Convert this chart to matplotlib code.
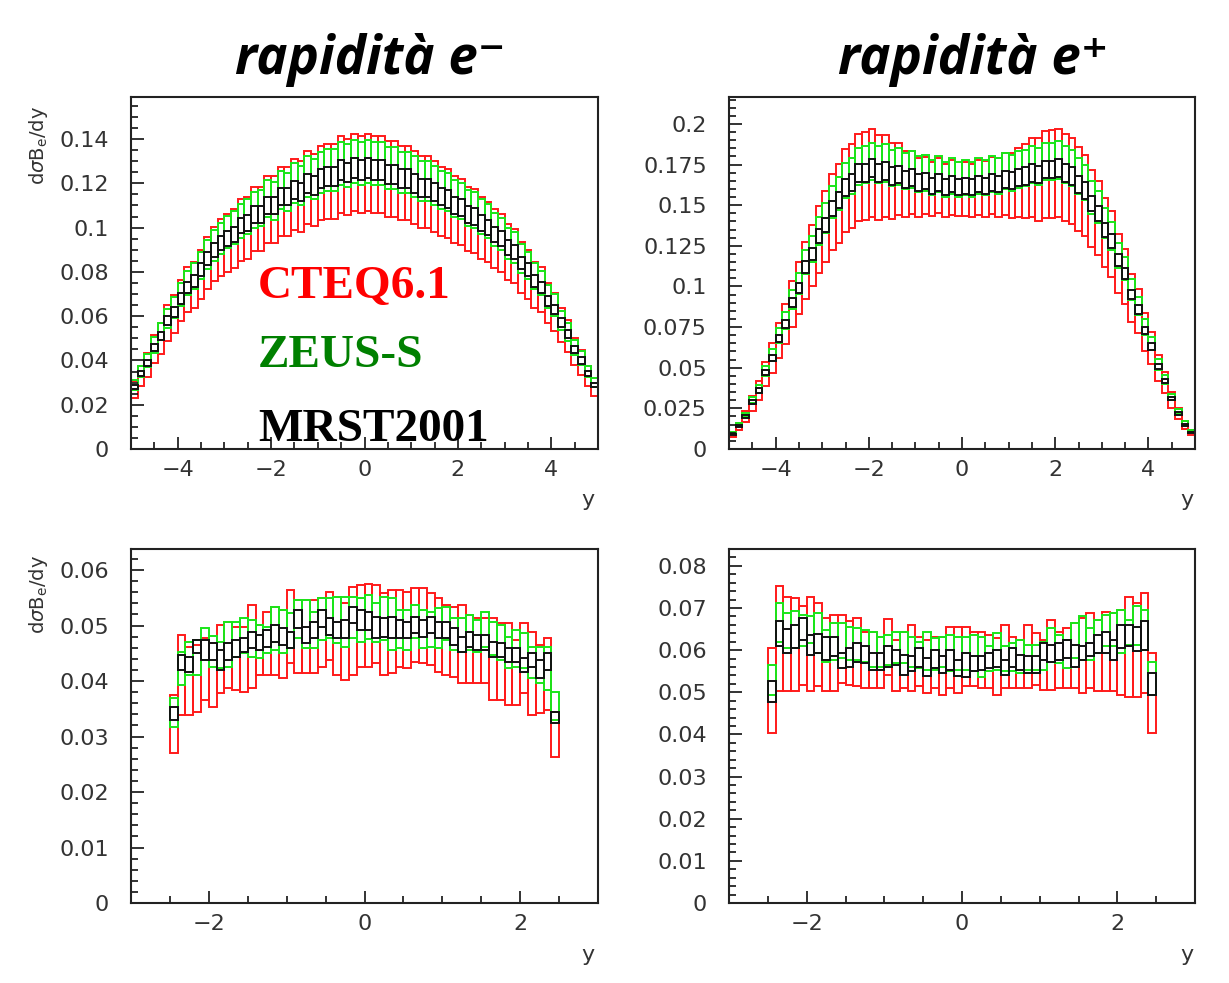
import numpy as np
import matplotlib
matplotlib.use("Agg")
import matplotlib.pyplot as plt
from matplotlib.ticker import MultipleLocator, FuncFormatter

plt.rcParams['font.family'] = ['DejaVu Sans']

# ---------------- top panels: 70 bins from -5 to 5 (center, half error) ----------------
tl_black_c = [0.028, 0.034, 0.039, 0.046, 0.051, 0.058, 0.062, 0.068, 0.073, 0.076, 0.081, 0.086, 0.090, 0.093, 0.095,
              0.097, 0.101, 0.102, 0.106, 0.106, 0.110, 0.110, 0.114, 0.114, 0.117, 0.116, 0.120, 0.119, 0.122, 0.123,
              0.123, 0.126, 0.125, 0.127, 0.126,
              0.127, 0.126, 0.126, 0.124, 0.124, 0.122, 0.122, 0.120, 0.118, 0.118, 0.116, 0.114, 0.113, 0.110, 0.109,
              0.106, 0.105, 0.102, 0.100, 0.097, 0.095, 0.091, 0.089, 0.084, 0.081, 0.076, 0.073, 0.067, 0.063, 0.057,
              0.052, 0.045, 0.040, 0.034, 0.029]
tl_black_e = [0.0010, 0.0012, 0.0014, 0.0016, 0.0018, 0.0020, 0.0022, 0.0024, 0.0026, 0.0027, 0.0028, 0.0030, 0.0032,
              0.0033, 0.0033, 0.0034, 0.0035, 0.0036, 0.0037, 0.0037, 0.0039, 0.0039, 0.0040, 0.0040, 0.0041, 0.0041,
              0.0042, 0.0042, 0.0043, 0.0043, 0.0043, 0.0044, 0.0044, 0.0044, 0.0044,
              0.0044, 0.0044, 0.0044, 0.0043, 0.0043, 0.0043, 0.0043, 0.0042, 0.0041, 0.0041, 0.0041, 0.0040, 0.0040,
              0.0039, 0.0038, 0.0037, 0.0037, 0.0036, 0.0035, 0.0034, 0.0033, 0.0032, 0.0031, 0.0029, 0.0028, 0.0027,
              0.0026, 0.0023, 0.0022, 0.0020, 0.0018, 0.0016, 0.0014, 0.0012, 0.0010]
tl_green_c = [0.029, 0.035, 0.040, 0.047, 0.053, 0.059, 0.064, 0.070, 0.075, 0.078, 0.083, 0.088, 0.092, 0.095, 0.098,
              0.100, 0.103, 0.105, 0.108, 0.109, 0.113, 0.112, 0.117, 0.116, 0.120, 0.119, 0.123, 0.122, 0.125, 0.126,
              0.126, 0.129, 0.128, 0.130, 0.129,
              0.130, 0.129, 0.129, 0.127, 0.127, 0.125, 0.125, 0.123, 0.121, 0.121, 0.119, 0.117, 0.116, 0.113, 0.112,
              0.109, 0.108, 0.105, 0.103, 0.099, 0.097, 0.093, 0.091, 0.086, 0.083, 0.078, 0.075, 0.069, 0.065, 0.058,
              0.053, 0.046, 0.041, 0.035, 0.030]
tl_green_e = [0.0022, 0.0026, 0.0030, 0.0035, 0.0039, 0.0044, 0.0047, 0.0052, 0.0056, 0.0058, 0.0062, 0.0066, 0.0069,
              0.0071, 0.0073, 0.0075, 0.0077, 0.0078, 0.0081, 0.0081, 0.0084, 0.0084, 0.0087, 0.0087, 0.0090, 0.0089,
              0.0092, 0.0091, 0.0093, 0.0094, 0.0094, 0.0096, 0.0096, 0.0097, 0.0096,
              0.0097, 0.0096, 0.0096, 0.0095, 0.0095, 0.0093, 0.0093, 0.0092, 0.0090, 0.0090, 0.0089, 0.0087, 0.0086,
              0.0084, 0.0083, 0.0081, 0.0080, 0.0078, 0.0076, 0.0074, 0.0073, 0.0070, 0.0068, 0.0064, 0.0062, 0.0058,
              0.0056, 0.0051, 0.0048, 0.0044, 0.0040, 0.0034, 0.0031, 0.0026, 0.0022]
tl_red_c = [0.027, 0.033, 0.038, 0.045, 0.050, 0.057, 0.061, 0.067, 0.072, 0.074, 0.079, 0.084, 0.088, 0.091, 0.093,
            0.095, 0.099, 0.100, 0.104, 0.104, 0.108, 0.108, 0.112, 0.112, 0.115, 0.114, 0.118, 0.117, 0.120, 0.121,
            0.121, 0.124, 0.123, 0.125, 0.124,
            0.125, 0.124, 0.124, 0.122, 0.122, 0.120, 0.120, 0.118, 0.116, 0.116, 0.114, 0.112, 0.111, 0.108, 0.107,
            0.104, 0.103, 0.100, 0.098, 0.095, 0.093, 0.089, 0.087, 0.082, 0.079, 0.074, 0.072, 0.066, 0.062, 0.056,
            0.051, 0.044, 0.039, 0.033, 0.028]
tl_red_e = [0.0038, 0.0046, 0.0053, 0.0063, 0.0070, 0.0080, 0.0085, 0.0093, 0.0100, 0.0104, 0.0111, 0.0118, 0.0123,
            0.0127, 0.0130, 0.0133, 0.0139, 0.0140, 0.0145, 0.0145, 0.0151, 0.0151, 0.0156, 0.0156, 0.0160, 0.0159,
            0.0165, 0.0163, 0.0167, 0.0169, 0.0169, 0.0173, 0.0171, 0.0174, 0.0173,
            0.0174, 0.0173, 0.0173, 0.0170, 0.0170, 0.0167, 0.0167, 0.0165, 0.0162, 0.0162, 0.0159, 0.0156, 0.0155,
            0.0151, 0.0149, 0.0145, 0.0144, 0.0140, 0.0137, 0.0133, 0.0130, 0.0125, 0.0122, 0.0115, 0.0111, 0.0104,
            0.0100, 0.0092, 0.0086, 0.0078, 0.0071, 0.0062, 0.0055, 0.0046, 0.0040]

tr_black_c = [0.009, 0.014, 0.020, 0.029, 0.036, 0.047, 0.056, 0.068, 0.077, 0.090, 0.099, 0.112, 0.120, 0.131, 0.138,
              0.148, 0.153, 0.161, 0.164, 0.170, 0.170, 0.173, 0.170, 0.171, 0.168, 0.169, 0.166, 0.167, 0.164, 0.165,
              0.162, 0.164, 0.161, 0.163, 0.161,
              0.162, 0.161, 0.163, 0.162, 0.164, 0.163, 0.166, 0.165, 0.167, 0.168, 0.170, 0.169, 0.172, 0.172, 0.173,
              0.170, 0.168, 0.163, 0.159, 0.151, 0.145, 0.135, 0.128, 0.116, 0.108, 0.095, 0.086, 0.073, 0.063, 0.051,
              0.042, 0.031, 0.022, 0.015, 0.010]
tr_black_e = [0.0004, 0.0006, 0.0008, 0.0011, 0.0013, 0.0016, 0.0019, 0.0022, 0.0025, 0.0029, 0.0032, 0.0036, 0.0039,
              0.0042, 0.0044, 0.0047, 0.0049, 0.0051, 0.0052, 0.0054, 0.0054, 0.0055, 0.0054, 0.0054, 0.0053, 0.0053,
              0.0052, 0.0052, 0.0051, 0.0051, 0.0050, 0.0051, 0.0050, 0.0050, 0.0050,
              0.0050, 0.0050, 0.0050, 0.0050, 0.0051, 0.0051, 0.0052, 0.0052, 0.0052, 0.0053, 0.0054, 0.0054, 0.0055,
              0.0055, 0.0055, 0.0054, 0.0053, 0.0052, 0.0050, 0.0048, 0.0046, 0.0043, 0.0041, 0.0037, 0.0034, 0.0030,
              0.0027, 0.0023, 0.0020, 0.0016, 0.0013, 0.0010, 0.0008, 0.0006, 0.0004]
tr_green_c = [0.010, 0.015, 0.021, 0.030, 0.037, 0.048, 0.058, 0.070, 0.079, 0.092, 0.102, 0.115, 0.123, 0.134, 0.142,
              0.152, 0.157, 0.165, 0.168, 0.174, 0.175, 0.177, 0.175, 0.176, 0.173, 0.174, 0.171, 0.172, 0.169, 0.170,
              0.167, 0.169, 0.166, 0.168, 0.166,
              0.167, 0.166, 0.168, 0.167, 0.169, 0.168, 0.171, 0.170, 0.172, 0.173, 0.175, 0.174, 0.177, 0.177, 0.178,
              0.175, 0.173, 0.168, 0.164, 0.155, 0.149, 0.139, 0.131, 0.119, 0.111, 0.098, 0.088, 0.075, 0.065, 0.052,
              0.043, 0.032, 0.023, 0.016, 0.011]
tr_green_e = [0.0007, 0.0010, 0.0014, 0.0020, 0.0024, 0.0031, 0.0038, 0.0046, 0.0051, 0.0060, 0.0066, 0.0075, 0.0080,
              0.0087, 0.0092, 0.0099, 0.0102, 0.0107, 0.0109, 0.0113, 0.0114, 0.0115, 0.0114, 0.0114, 0.0112, 0.0113,
              0.0111, 0.0112, 0.0110, 0.0111, 0.0109, 0.0110, 0.0108, 0.0109, 0.0108,
              0.0109, 0.0108, 0.0109, 0.0109, 0.0110, 0.0109, 0.0111, 0.0111, 0.0112, 0.0112, 0.0114, 0.0113, 0.0115,
              0.0115, 0.0116, 0.0114, 0.0112, 0.0109, 0.0107, 0.0101, 0.0097, 0.0090, 0.0085, 0.0077, 0.0072, 0.0064,
              0.0057, 0.0049, 0.0042, 0.0034, 0.0028, 0.0021, 0.0015, 0.0010, 0.0007]
tr_red_c = [0.009, 0.014, 0.020, 0.028, 0.036, 0.046, 0.056, 0.067, 0.077, 0.089, 0.099, 0.110, 0.119, 0.129, 0.137,
            0.146, 0.151, 0.159, 0.162, 0.167, 0.168, 0.170, 0.167, 0.168, 0.165, 0.166, 0.163, 0.164, 0.161, 0.162,
            0.160, 0.162, 0.159, 0.161, 0.160,
            0.160, 0.159, 0.161, 0.160, 0.162, 0.161, 0.163, 0.162, 0.164, 0.165, 0.167, 0.166, 0.169, 0.169, 0.170,
            0.167, 0.165, 0.160, 0.156, 0.148, 0.142, 0.133, 0.126, 0.114, 0.106, 0.093, 0.085, 0.072, 0.062, 0.050,
            0.041, 0.030, 0.022, 0.015, 0.010]
tr_red_e = [0.0015, 0.0023, 0.0032, 0.0045, 0.0058, 0.0074, 0.0090, 0.0107, 0.0123, 0.0142, 0.0158, 0.0176, 0.0190,
            0.0206, 0.0219, 0.0234, 0.0242, 0.0254, 0.0259, 0.0267, 0.0269, 0.0272, 0.0262, 0.0250, 0.0235, 0.0222,
            0.0205, 0.0195, 0.0180, 0.0175, 0.0168, 0.0170, 0.0165, 0.0168, 0.0166,
            0.0166, 0.0165, 0.0168, 0.0170, 0.0175, 0.0180, 0.0192, 0.0200, 0.0215, 0.0228, 0.0245, 0.0255, 0.0268,
            0.0270, 0.0272, 0.0267, 0.0264, 0.0256, 0.0250, 0.0237, 0.0227, 0.0213, 0.0202, 0.0182, 0.0170, 0.0149,
            0.0136, 0.0115, 0.0099, 0.0080, 0.0066, 0.0048, 0.0035, 0.0024, 0.0016]

# ---------------- bottom panels: 50 bins from -2.5 to 2.5 (low, high) ----------------
bl_black_lo = [0.0330, 0.0420, 0.0417, 0.0450, 0.0438, 0.0438, 0.0420, 0.0438, 0.0444, 0.0453, 0.0459, 0.0456, 0.0462,
               0.0471, 0.0465, 0.0459, 0.0495, 0.0468, 0.0477, 0.0498, 0.0483, 0.0477, 0.0477, 0.0504, 0.0492, 0.0492,
               0.0477, 0.0480, 0.0477, 0.0477, 0.0477, 0.0486, 0.0480, 0.0486, 0.0477, 0.0477, 0.0465, 0.0453, 0.0462,
               0.0456, 0.0456, 0.0444, 0.0444, 0.0435, 0.0435, 0.0417, 0.0426, 0.0405, 0.0420, 0.0324]
bl_black_hi = [0.0354, 0.0447, 0.0444, 0.0474, 0.0474, 0.0468, 0.0456, 0.0468, 0.0474, 0.0477, 0.0489, 0.0483, 0.0492,
               0.0501, 0.0495, 0.0489, 0.0528, 0.0498, 0.0507, 0.0528, 0.0513, 0.0507, 0.0510, 0.0534, 0.0528, 0.0525,
               0.0516, 0.0513, 0.0516, 0.0510, 0.0507, 0.0516, 0.0510, 0.0516, 0.0507, 0.0507, 0.0495, 0.0480, 0.0489,
               0.0483, 0.0483, 0.0471, 0.0468, 0.0459, 0.0459, 0.0441, 0.0450, 0.0438, 0.0450, 0.0345]
bl_green_lo = [0.0318, 0.0393, 0.0411, 0.0411, 0.0438, 0.0426, 0.0423, 0.0426, 0.0444, 0.0450, 0.0444, 0.0441, 0.0450,
               0.0456, 0.0450, 0.0459, 0.0477, 0.0459, 0.0459, 0.0474, 0.0477, 0.0468, 0.0462, 0.0477, 0.0471, 0.0475,
               0.0471, 0.0474, 0.0456, 0.0459, 0.0456, 0.0477, 0.0459, 0.0462, 0.0459, 0.0474, 0.0456, 0.0453, 0.0456,
               0.0453, 0.0462, 0.0447, 0.0438, 0.0423, 0.0426, 0.0423, 0.0405, 0.0396, 0.0384, 0.0330]
bl_green_hi = [0.0369, 0.0453, 0.0471, 0.0474, 0.0495, 0.0481, 0.0471, 0.0507, 0.0507, 0.0513, 0.0510, 0.0501, 0.0498,
               0.0534, 0.0528, 0.0522, 0.0546, 0.0546, 0.0525, 0.0549, 0.0549, 0.0552, 0.0552, 0.0552, 0.0549, 0.0555,
               0.0540, 0.0552, 0.0549, 0.0528, 0.0528, 0.0537, 0.0528, 0.0525, 0.0531, 0.0534, 0.0513, 0.0513, 0.0519,
               0.0510, 0.0525, 0.0507, 0.0501, 0.0480, 0.0492, 0.0486, 0.0462, 0.0462, 0.0462, 0.0381]
bl_red_lo = [0.0270, 0.0339, 0.0339, 0.0345, 0.0366, 0.0354, 0.0378, 0.0387, 0.0384, 0.0381, 0.0387, 0.0411, 0.0411,
             0.0411, 0.0405, 0.0432, 0.0414, 0.0414, 0.0414, 0.0426, 0.0438, 0.0411, 0.0402, 0.0411, 0.0426, 0.0425,
             0.0432, 0.0411, 0.0414, 0.0426, 0.0423, 0.0435, 0.0432, 0.0429, 0.0417, 0.0411, 0.0408, 0.0396, 0.0396,
             0.0396, 0.0396, 0.0366, 0.0366, 0.0357, 0.0357, 0.0378, 0.0339, 0.0342, 0.0348, 0.0264]
bl_red_hi = [0.0375, 0.0483, 0.0462, 0.0465, 0.0477, 0.0469, 0.0501, 0.0507, 0.0498, 0.0498, 0.0537, 0.0501, 0.0525,
             0.0534, 0.0528, 0.0564, 0.0546, 0.0546, 0.0546, 0.0549, 0.0561, 0.0552, 0.0540, 0.0570, 0.0573, 0.0575,
             0.0573, 0.0558, 0.0564, 0.0564, 0.0561, 0.0567, 0.0567, 0.0558, 0.0549, 0.0537, 0.0534, 0.0537, 0.0519,
             0.0513, 0.0513, 0.0513, 0.0504, 0.0504, 0.0474, 0.0504, 0.0489, 0.0465, 0.0477, 0.0345]

br_black_lo = [0.0478, 0.0609, 0.0593, 0.0605, 0.0624, 0.0589, 0.0593, 0.0577, 0.0585, 0.0557, 0.0561, 0.0573, 0.0570,
               0.0553, 0.0553, 0.0561, 0.0565, 0.0542, 0.0550, 0.0561, 0.0538, 0.0557, 0.0545, 0.0553, 0.0538, 0.0537,
               0.0550, 0.0553, 0.0557, 0.0561, 0.0541, 0.0561, 0.0553, 0.0545, 0.0545, 0.0577, 0.0573, 0.0577, 0.0581,
               0.0561, 0.0577, 0.0585, 0.0593, 0.0593, 0.0577, 0.0605, 0.0609, 0.0597, 0.0600, 0.0494]
br_black_hi = [0.0526, 0.0668, 0.0650, 0.0660, 0.0676, 0.0636, 0.0639, 0.0632, 0.0632, 0.0593, 0.0605, 0.0617, 0.0609,
               0.0593, 0.0593, 0.0609, 0.0601, 0.0589, 0.0585, 0.0605, 0.0581, 0.0601, 0.0585, 0.0601, 0.0577, 0.0593,
               0.0585, 0.0585, 0.0593, 0.0601, 0.0577, 0.0605, 0.0589, 0.0585, 0.0585, 0.0617, 0.0613, 0.0617, 0.0624,
               0.0613, 0.0609, 0.0617, 0.0636, 0.0644, 0.0624, 0.0660, 0.0660, 0.0656, 0.0668, 0.0545]
br_green_lo = [0.0494, 0.0620, 0.0605, 0.0605, 0.0609, 0.0617, 0.0593, 0.0573, 0.0577, 0.0581, 0.0577, 0.0577, 0.0573,
               0.0561, 0.0561, 0.0565, 0.0569, 0.0569, 0.0561, 0.0557, 0.0553, 0.0553, 0.0561, 0.0550, 0.0553, 0.0553,
               0.0550, 0.0537, 0.0550, 0.0553, 0.0550, 0.0550, 0.0545, 0.0553, 0.0553, 0.0553, 0.0573, 0.0569, 0.0557,
               0.0581, 0.0577, 0.0577, 0.0593, 0.0609, 0.0609, 0.0593, 0.0613, 0.0613, 0.0601, 0.0494]
br_green_hi = [0.0565, 0.0711, 0.0688, 0.0694, 0.0684, 0.0680, 0.0688, 0.0648, 0.0664, 0.0664, 0.0656, 0.0652, 0.0648,
               0.0644, 0.0632, 0.0636, 0.0644, 0.0644, 0.0632, 0.0620, 0.0644, 0.0628, 0.0632, 0.0636, 0.0632, 0.0632,
               0.0636, 0.0632, 0.0609, 0.0640, 0.0609, 0.0617, 0.0624, 0.0613, 0.0613, 0.0620, 0.0652, 0.0636, 0.0624,
               0.0664, 0.0680, 0.0652, 0.0672, 0.0684, 0.0688, 0.0696, 0.0672, 0.0704, 0.0696, 0.0573]
br_red_lo = [0.0403, 0.0502, 0.0502, 0.0502, 0.0518, 0.0502, 0.0514, 0.0502, 0.0502, 0.0522, 0.0518, 0.0514, 0.0510,
             0.0510, 0.0510, 0.0541, 0.0502, 0.0510, 0.0502, 0.0514, 0.0498, 0.0510, 0.0494, 0.0510, 0.0498, 0.0514,
             0.0514, 0.0510, 0.0510, 0.0494, 0.0510, 0.0510, 0.0510, 0.0510, 0.0518, 0.0506, 0.0506, 0.0510, 0.0510,
             0.0510, 0.0498, 0.0510, 0.0502, 0.0502, 0.0502, 0.0494, 0.0490, 0.0490, 0.0498, 0.0403]
br_red_hi = [0.0605, 0.0753, 0.0727, 0.0723, 0.0704, 0.0727, 0.0711, 0.0676, 0.0684, 0.0684, 0.0668, 0.0676, 0.0644,
             0.0644, 0.0632, 0.0674, 0.0625, 0.0644, 0.0660, 0.0632, 0.0625, 0.0632, 0.0632, 0.0656, 0.0656, 0.0656,
             0.0644, 0.0644, 0.0636, 0.0628, 0.0660, 0.0632, 0.0624, 0.0660, 0.0640, 0.0624, 0.0672, 0.0644, 0.0652,
             0.0664, 0.0676, 0.0688, 0.0672, 0.0690, 0.0688, 0.0696, 0.0727, 0.0711, 0.0735, 0.0593]

RED = '#ff1a1a'
GREEN = '#19e619'
BLACK = '#111111'
W, H = 1229, 983


def px_axes(fig, x0, y0, x1, y1):
    return fig.add_axes([x0 / W, 1 - y1 / H, (x1 - x0) / W, (y1 - y0) / H])


def draw_boxes(ax, edges, lo, hi, color):
    edges = np.asarray(edges)
    centers = 0.5 * (edges[:-1] + edges[1:])
    width = edges[1] - edges[0]
    lo = np.asarray(lo)
    hi = np.asarray(hi)
    ax.bar(centers, hi - lo, bottom=lo, width=width, fill=False,
           edgecolor=color, linewidth=1.4, align='center')


def fmt(v, pos):
    if abs(v) < 1e-9:
        return '0'
    s = ('%.4f' % v).rstrip('0').rstrip('.')
    return s.replace('-', '\u2212')


def style(ax, xlim, ylim, xmaj, xmin, ymaj, ymin):
    ax.set_xlim(*xlim)
    ax.set_ylim(*ylim)
    ax.xaxis.set_major_locator(MultipleLocator(xmaj))
    ax.xaxis.set_minor_locator(MultipleLocator(xmin))
    ax.yaxis.set_major_locator(MultipleLocator(ymaj))
    ax.yaxis.set_minor_locator(MultipleLocator(ymin))
    ax.xaxis.set_major_formatter(FuncFormatter(fmt))
    ax.yaxis.set_major_formatter(FuncFormatter(fmt))
    ax.tick_params(which='both', direction='in', top=False, right=False,
                   colors=BLACK, labelcolor='#333333', labelsize=16)
    ax.tick_params(which='major', length=9, width=1.2)
    ax.tick_params(which='minor', length=5, width=1.2)
    ax.tick_params(axis='y', which='major', pad=16)
    ax.tick_params(axis='x', which='major', pad=8)
    for s in ax.spines.values():
        s.set_linewidth(1.5)
        s.set_color('#222222')


fig = plt.figure(figsize=(12.29, 9.83), dpi=100)

top_edges = np.linspace(-5, 5, 71)
bot_edges = np.linspace(-2.5, 2.5, 51)

# top-left: e-
ax1 = px_axes(fig, 131, 97, 598, 449)
for c, e, col in [(tl_red_c, tl_red_e, RED), (tl_green_c, tl_green_e, GREEN), (tl_black_c, tl_black_e, BLACK)]:
    draw_boxes(ax1, top_edges, np.array(c) - np.array(e), np.array(c) + np.array(e), col)
style(ax1, (-5, 5), (0, 0.159), 2, 0.5, 0.02, 0.005)

# top-right: e+
ax2 = px_axes(fig, 729, 97, 1195, 449)
for c, e, col in [(tr_red_c, tr_red_e, RED), (tr_green_c, tr_green_e, GREEN), (tr_black_c, tr_black_e, BLACK)]:
    draw_boxes(ax2, top_edges, np.array(c) - np.array(e), np.array(c) + np.array(e), col)
style(ax2, (-5, 5), (0, 0.2166), 2, 0.5, 0.025, 0.005)

# bottom-left
ax3 = px_axes(fig, 131, 549, 598, 903)
for lo, hi, col in [(bl_red_lo, bl_red_hi, RED), (bl_green_lo, bl_green_hi, GREEN), (bl_black_lo, bl_black_hi, BLACK)]:
    draw_boxes(ax3, bot_edges, lo, hi, col)
style(ax3, (-3, 3), (0, 0.0638), 2, 0.5, 0.01, 0.002)

# bottom-right
ax4 = px_axes(fig, 729, 549, 1195, 903)
for lo, hi, col in [(br_red_lo, br_red_hi, RED), (br_green_lo, br_green_hi, GREEN), (br_black_lo, br_black_hi, BLACK)]:
    draw_boxes(ax4, bot_edges, lo, hi, col)
style(ax4, (-3, 3), (0, 0.084), 2, 0.5, 0.01, 0.002)

# axis titles
for yc in (145, 594):
    fig.text(38 / W, 1 - yc / H, r'd$\sigma$B$_{\rm e}$/dy', rotation=90, ha='center', va='center',
             fontsize=14, color='#333333')
for xc, yc in [(588, 500), (1187, 500), (588, 955), (1187, 955)]:
    fig.text(xc / W, 1 - yc / H, 'y', ha='center', va='center', fontsize=16, color='#333333')

# panel titles
title_font = dict(family=['Open Sans', 'DejaVu Sans'], weight='bold', style='italic', color='black')
fig.text(370 / W, 1 - 60 / H, 'rapidità e\u207b', ha='center', va='center', fontsize=38, **title_font)
fig.text(973 / W, 1 - 60 / H, 'rapidità e\u207a', ha='center', va='center', fontsize=38, **title_font)

# legend text
legend_font = dict(family=['Liberation Serif', 'DejaVu Serif'], weight='bold', fontsize=34)
ax1.text(258 / W, 1 - 287 / H, 'CTEQ6.1', transform=fig.transFigure, ha='left', va='center', color='#ff0000', **legend_font)
ax1.text(258 / W, 1 - 356 / H, 'ZEUS-S', transform=fig.transFigure, ha='left', va='center', color='#008000', **legend_font)
ax1.text(258 / W, 1 - 430 / H, 'MRST2001', transform=fig.transFigure, ha='left', va='center', color='black', **legend_font)

fig.savefig('out.png', dpi=100, facecolor='white')
